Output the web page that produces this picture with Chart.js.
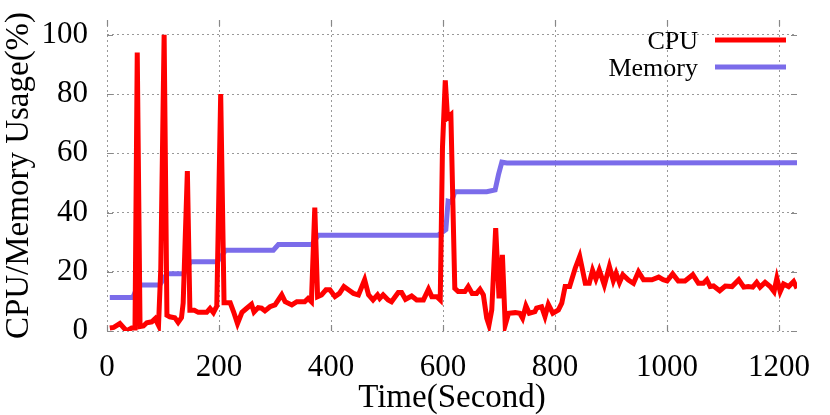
<!DOCTYPE html>
<html>
<head>
<meta charset="utf-8">
<script src="https://cdn.jsdelivr.net/npm/chart.js@4.4.1/dist/chart.umd.min.js"></script>
<style>
  html, body { margin: 0; padding: 0; background: #fff; }
</style>
</head>
<body>
<canvas id="usageChart" width="830" height="415"></canvas>
<script>
// values (time in seconds, usage in %)
const seriesNames = ["CPU", "Memory"];

const cpuTime = [5, 12, 23, 35, 44, 50, 54, 59, 65, 71, 80, 86, 92, 96, 102, 107, 112, 121, 127, 133, 136, 143.5, 148,
  156, 163, 178, 184, 190, 196, 203, 209, 220, 226, 233, 241, 249, 258, 262.5, 270, 276, 282, 291, 300, 312, 318, 330,
  339, 353, 359, 365, 371, 376, 383, 391, 398, 407, 415, 423, 431, 440, 449, 460, 467, 475, 483, 487, 493, 502, 508,
  520, 526, 533, 544, 553, 565, 574, 580, 589, 595, 599, 604, 608, 614, 621, 627, 639, 645, 652, 660, 666, 672, 678,
  682, 687, 694, 700, 706, 711, 717, 729, 737, 742, 748, 754, 764, 767, 776, 782, 788, 796, 806, 812, 818, 826, 836,
  844, 854, 861, 867, 873, 879, 888, 897, 904, 909, 915, 921, 931, 940, 949, 958, 973, 985, 993, 1000, 1010, 1020,
  1032, 1046, 1056, 1065, 1071, 1077, 1083, 1094, 1104, 1116, 1128, 1137, 1145, 1153, 1160, 1166, 1175, 1184, 1191,
  1196, 1202, 1208, 1217, 1226, 1232];
const cpuValue = [1, 1.2, 2.5, 0, 1, 1, 94, 1.5, 1.7, 2.8, 3.1, 4.2, 1.9, 21, 100, 5.3, 4.8, 4.5, 2.9, 4.5, 9.4, 54, 7,
  7, 6.3, 6.3, 7.6, 6.2, 8.4, 80, 9.5, 9.5, 6.5, 2.5, 6.3, 7.6, 9, 6.4, 7.9, 7.7, 6.8, 8.2, 8.8, 12.2, 9.9, 8.8,
  9.9, 9.9, 11, 9.9, 41.7, 11.6, 12.2, 13.9, 13.9, 11.6, 12.7, 15, 13.9, 12.7, 12.2, 17.3, 12.2, 10.5, 12.2, 11,
  12.2, 10.5, 9.9, 13, 13, 10.7, 11.8, 10.5, 10.5, 14.1, 11.6, 11.6, 10.5, 62, 84.6, 72, 73, 14.4, 13.3, 13.3, 15,
  12.7, 12.7, 14.1, 12.2, 4.3, 2, 7.1, 34.7, 11, 25.7, 2, 6, 6.2, 6, 4.3, 8.5, 6, 6.5, 7.7, 8.2, 4.9, 9, 6, 7.1,
  9.4, 15, 15, 21.2, 25.2, 16.1, 16.1, 20.5, 17.5, 20.6, 15.5, 21.8, 17, 19.5, 16.4, 19, 17.2, 16.1, 20, 17.3, 17.3,
  18.2, 17.3, 16.9, 19.3, 16.9, 16.9, 19, 16.1, 16.1, 17.3, 15, 15.2, 13.6, 15.2, 15, 17.3, 14.8, 15, 14.8, 16.4,
  14.8, 16.4, 15, 13.3, 17.8, 13.3, 15.9, 15, 16.7, 14.4];

const memTime = [5, 46, 56, 94, 107, 137, 149, 197, 212, 297, 306, 366, 377, 591, 605, 609, 615, 621, 678, 693, 699, 705,
  714, 1232];
const memValue = [11.3, 11.3, 15.5, 15.5, 19.3, 19.3, 23.4, 23.4, 27.3, 27.3, 29.2, 29.2, 32.3, 32.3, 34.2, 43.8, 43.5,
  47, 47, 47.6, 52.8, 57, 56.7, 56.8];

const xTicks = [0, 200, 400, 600, 800, 1000, 1200];
const yTicks = [0, 20, 40, 60, 80, 100];

const serif = "'Liberation Serif', 'DejaVu Serif', serif";

function toPoints(xs, ys) {
  return xs.map((x, i) => ({ x: x, y: ys[i] }));
}

// gnuplot style tick marks pointing into the plot, on all four sides
const innerTicks = {
  id: "innerTicks",
  afterDraw(chart) {
    const { ctx, chartArea: a, scales } = chart;
    ctx.save();
    ctx.strokeStyle = "#888";
    ctx.lineWidth = 1.2;
    ctx.beginPath();
    scales.x.ticks.forEach(t => {
      const px = Math.round(scales.x.getPixelForValue(t.value)) + 0.5;
      ctx.moveTo(px, a.bottom); ctx.lineTo(px, a.bottom - 6);
      ctx.moveTo(px, a.top); ctx.lineTo(px, a.top + 6);
    });
    scales.y.ticks.forEach(t => {
      const py = Math.round(scales.y.getPixelForValue(t.value)) + 0.5;
      ctx.moveTo(a.left, py); ctx.lineTo(a.left + 6, py);
      ctx.moveTo(a.right, py); ctx.lineTo(a.right - 6, py);
    });
    ctx.stroke();
    ctx.restore();
  }
};

// key in the top right corner: text first, then the line sample
const rightKey = {
  id: "rightKey",
  afterDraw(chart) {
    const ctx = chart.ctx;
    ctx.save();
    ctx.font = "26px " + serif;
    ctx.textAlign = "right";
    ctx.textBaseline = "alphabetic";
    chart.data.datasets.forEach((ds, i) => {
      const y = 40 + i * 27;
      ctx.fillStyle = "#000";
      ctx.fillText(ds.label, 698, y + 9);
      ctx.strokeStyle = ds.borderColor;
      ctx.lineWidth = 5;
      ctx.beginPath();
      ctx.moveTo(715, y);
      ctx.lineTo(786, y);
      ctx.stroke();
    });
    ctx.restore();
  }
};

const ctx = document.getElementById("usageChart").getContext("2d");

new Chart(ctx, {
  type: "line",
  data: {
    datasets: [
      {
        label: seriesNames[0],
        data: toPoints(cpuTime, cpuValue),
        borderColor: "#ff0000",
        borderWidth: 5,
        pointRadius: 0,
        tension: 0,
        fill: false,
      },
      {
        label: seriesNames[1],
        data: toPoints(memTime, memValue),
        borderColor: "#7b6cea",
        borderWidth: 5,
        pointRadius: 0,
        tension: 0,
        fill: false,
      },
    ],
  },
  options: {
    responsive: false,
    animation: false,
    layout: { padding: { top: 20, right: 33, left: 0, bottom: 0 } },
    scales: {
      x: {
        type: "linear",
        min: 0,
        max: 1232,
        afterBuildTicks: s => { s.ticks = xTicks.map(v => ({ value: v })); },
        afterFit: s => { s.height = 84; s.paddingLeft = 0; s.paddingRight = 0; },
        border: { display: false, dash: [2, 3] },
        grid: { color: "#999", lineWidth: 1, drawTicks: false },
        ticks: { color: "#000", padding: 18, font: { family: serif, size: 31 }, callback: v => String(v) },
        title: { display: true, text: "Time(Second)", color: "#000", padding: { top: 0, bottom: -3 }, font: { family: serif, size: 33 } },
      },
      y: {
        min: 0,
        max: 105,
        afterBuildTicks: s => { s.ticks = yTicks.map(v => ({ value: v })); },
        afterFit: s => { s.width = 107; s.paddingTop = 0; s.paddingBottom = 0; },
        border: { display: false, dash: [2, 3] },
        grid: { color: "#999", lineWidth: 1, drawTicks: false },
        ticks: { color: "#000", padding: 19, font: { family: serif, size: 31 }, callback: v => String(v) },
        title: { display: true, text: "CPU/Memory Usage(%)", color: "#000", padding: 0, font: { family: serif, size: 33 } },
      },
    },
    plugins: {
      legend: { display: false },
      tooltip: { enabled: false },
    },
  },
  plugins: [innerTicks, rightKey],
});
</script>
</body>
</html>
